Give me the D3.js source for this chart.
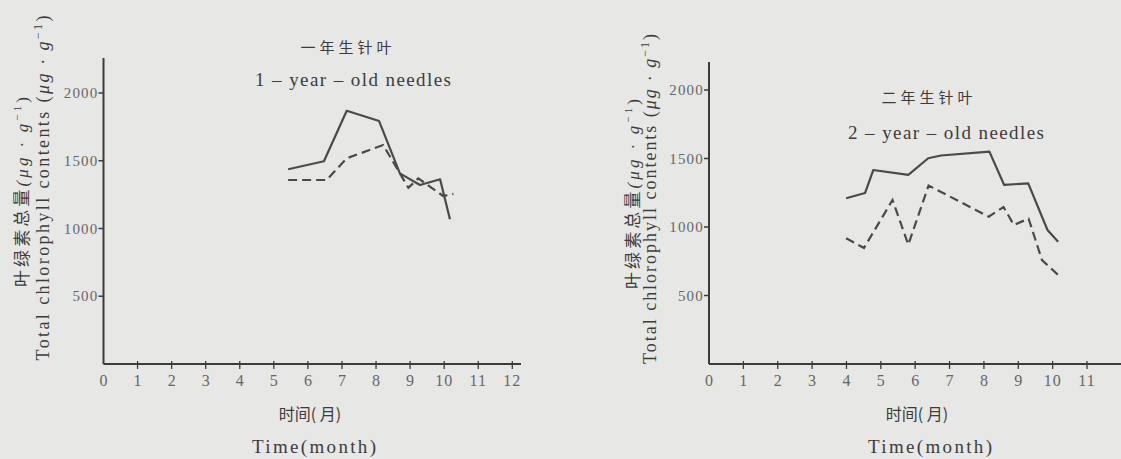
<!DOCTYPE html>
<html>
<head>
<meta charset="utf-8">
<script src="https://cdn.jsdelivr.net/npm/d3@7"></script>
<style>
  body { margin: 0; background: #e7e7e5; }
  svg { display: block; }
</style>
</head>
<body>
<div id="chart"></div>
<script>
// month ticks and y ticks
const yTicks = [500, 1000, 1500, 2000];
const monthsLeft = d3.range(0, 13);
const monthsRight = d3.range(0, 12);

// 1-year-old needles: [month, µg/g]
const oneYearSolid = [
  [5.42, 1437], [6.47, 1496], [7.14, 1869], [8.09, 1793], [8.70, 1407],
  [9.29, 1321], [9.88, 1363], [10.17, 1068]
];
const oneYearDashed = [
  [5.42, 1358], [6.55, 1358], [7.14, 1518], [8.21, 1616], [8.95, 1300],
  [9.24, 1370], [9.55, 1315], [9.97, 1240], [10.27, 1255]
];

// 2-year-old needles
const twoYearSolid = [
  [3.99, 1210], [4.54, 1248], [4.78, 1416], [5.80, 1380], [6.38, 1502],
  [6.75, 1522], [8.16, 1550], [8.59, 1307], [9.29, 1319], [9.85, 978], [10.16, 893]
];
const twoYearDashed = [
  [3.99, 918], [4.51, 847], [5.34, 1197], [5.80, 872], [6.39, 1303],
  [8.14, 1075], [8.57, 1146], [8.87, 1015], [9.30, 1061], [9.69, 759], [10.16, 650]
];

const W = 1121, H = 459;
const ink = '#3c3c3c';
const lineInk = '#4a4a4a';
const tickInk = '#666';
const serif = '"Liberation Serif", "DejaVu Serif", serif';
const cjk = '"Noto Sans CJK SC", sans-serif';

const svg = d3.select('#chart').append('svg')
  .attr('width', W)
  .attr('height', H);

svg.append('rect')
  .attr('width', W).attr('height', H)
  .attr('fill', '#e7e7e5');

const panels = [
  {
    months: monthsLeft, x0: 103.5, x1: 512.3, axisEnd: 521, yTop: 58,
    y0: 364, y2000: 93,
    solid: oneYearSolid, dashed: oneYearDashed,
    cnTitle: '一年生针叶', cnTitleX: 348, cnTitleY: 53,
    enTitle: '1 – year – old needles', enTitleX: 353, enTitleY: 86, enTitleW: 196,
    cnLabelX: 22, enLabelX: 43, enLabelCy: 188, enLabelW: 345, cnLabelCy: 192, cnLabelW: 190,
    xLabelX: 310, timeX: 314
  },
  {
    months: monthsRight, x0: 709, x1: 1087, axisEnd: 1121, yTop: 62,
    y0: 364, y2000: 90,
    solid: twoYearSolid, dashed: twoYearDashed,
    cnTitle: '二年生针叶', cnTitleX: 929, cnTitleY: 103,
    enTitle: '2 – year – old needles', enTitleX: 946, enTitleY: 139, enTitleW: 196,
    cnLabelX: 633, enLabelX: 650, enLabelCy: 199, enLabelW: 330, cnLabelCy: 194, cnLabelW: 190,
    xLabelX: 917, timeX: 930
  }
];

panels.forEach(p => {
  const last = p.months[p.months.length - 1];
  const x = d3.scaleLinear().domain([0, last]).range([p.x0, p.x1]);
  const y = d3.scaleLinear().domain([0, 2000]).range([p.y0, p.y2000]);
  const g = svg.append('g');

  // axes
  g.append('line')
    .attr('x1', p.x0).attr('x2', p.x0)
    .attr('y1', p.yTop).attr('y2', p.y0)
    .attr('stroke', ink).attr('stroke-width', 2);
  g.append('line')
    .attr('x1', p.x0).attr('x2', p.axisEnd)
    .attr('y1', p.y0).attr('y2', p.y0)
    .attr('stroke', ink).attr('stroke-width', 2);

  // y ticks
  g.selectAll('.yt').data(yTicks).enter().append('line')
    .attr('x1', p.x0 - 5).attr('x2', p.x0)
    .attr('y1', d => y(d)).attr('y2', d => y(d))
    .attr('stroke', ink).attr('stroke-width', 1.5);
  g.selectAll('.yl').data(yTicks).enter().append('text')
    .attr('x', p.x0 - 5).attr('y', d => y(d) + 5)
    .attr('text-anchor', 'end')
    .attr('font-family', serif).attr('font-size', 15)
    .attr('letter-spacing', 1.2)
    .attr('fill', tickInk)
    .text(d => d);

  // x ticks
  g.selectAll('.xt').data(p.months.slice(1)).enter().append('line')
    .attr('x1', d => x(d)).attr('x2', d => x(d))
    .attr('y1', p.y0 - 3).attr('y2', p.y0 + 5)
    .attr('stroke', ink).attr('stroke-width', 1.3);
  g.selectAll('.xl').data(p.months).enter().append('text')
    .attr('x', d => x(d)).attr('y', p.y0 + 22)
    .attr('text-anchor', 'middle')
    .attr('font-family', serif).attr('font-size', 16)
    .attr('letter-spacing', d => d >= 10 ? 1 : 0)
    .attr('fill', tickInk)
    .text(d => d);

  // lines
  const line = d3.line().x(d => x(d[0])).y(d => y(d[1]));
  g.append('path').datum(p.solid)
    .attr('d', line)
    .attr('fill', 'none').attr('stroke', lineInk)
    .attr('stroke-width', 2.2).attr('stroke-linejoin', 'round');
  g.append('path').datum(p.dashed)
    .attr('d', line)
    .attr('fill', 'none').attr('stroke', lineInk)
    .attr('stroke-width', 2.2)
    .attr('stroke-dasharray', '9,5');

  // titles
  g.append('text')
    .attr('x', p.cnTitleX).attr('y', p.cnTitleY)
    .attr('text-anchor', 'middle')
    .attr('font-family', cjk).attr('font-size', 15)
    .attr('letter-spacing', 4)
    .attr('fill', ink)
    .text(p.cnTitle);
  g.append('text')
    .attr('x', p.enTitleX).attr('y', p.enTitleY)
    .attr('text-anchor', 'middle')
    .attr('font-family', serif).attr('font-size', 19)
    .attr('textLength', p.enTitleW).attr('lengthAdjust', 'spacing')
    .attr('fill', ink)
    .text(p.enTitle);

  // x axis labels
  g.append('text')
    .attr('x', p.xLabelX).attr('y', 420)
    .attr('text-anchor', 'middle')
    .attr('font-family', cjk).attr('font-size', 16)
    .attr('fill', ink)
    .text('时间( 月)');
  g.append('text')
    .attr('x', p.timeX).attr('y', 453)
    .attr('text-anchor', 'middle')
    .attr('font-family', serif).attr('font-size', 19)
    .attr('textLength', 124).attr('lengthAdjust', 'spacing')
    .attr('fill', ink)
    .text('Time(month)');

  // y axis labels (rotated)
  const cn = g.append('text')
    .attr('transform', `translate(${p.cnLabelX + 6},${p.cnLabelCy}) rotate(-90)`)
    .attr('text-anchor', 'middle')
    .attr('font-size', 17)
    .attr('textLength', p.cnLabelW).attr('lengthAdjust', 'spacing')
    .attr('fill', ink);
  cn.append('tspan').attr('font-family', cjk).text('叶绿素总量');
  cn.append('tspan').attr('font-family', serif).attr('font-style', 'italic').text('(μg · g');
  cn.append('tspan').attr('font-family', serif).attr('font-size', 11).attr('dy', -7).text('−1');
  cn.append('tspan').attr('font-family', serif).attr('dy', 7).text(')');

  const en = g.append('text')
    .attr('transform', `translate(${p.enLabelX + 6},${p.enLabelCy}) rotate(-90)`)
    .attr('text-anchor', 'middle')
    .attr('font-family', serif).attr('font-size', 18)
    .attr('textLength', p.enLabelW).attr('lengthAdjust', 'spacing')
    .attr('fill', ink);
  en.append('tspan').text('Total chlorophyll contents (');
  en.append('tspan').attr('font-style', 'italic').text('μg · g');
  en.append('tspan').attr('font-size', 12).attr('dy', -7).text('−1');
  en.append('tspan').attr('dy', 7).text(')');
});
</script>
</body>
</html>
